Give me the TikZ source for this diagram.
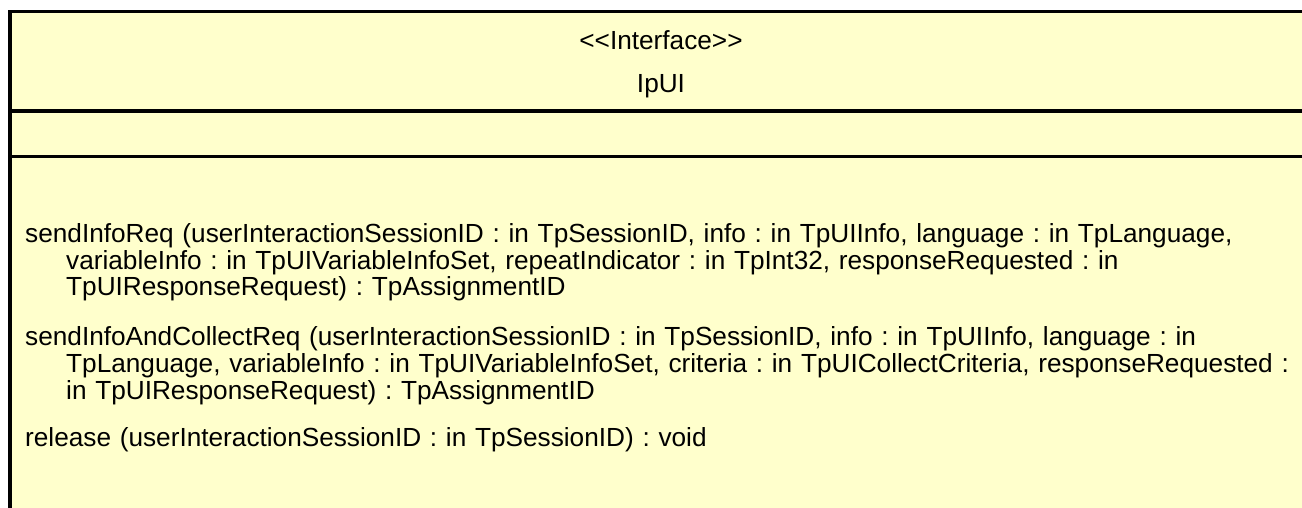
\documentclass[tikz,border=0pt]{standalone}
\usepackage{fontspec}
\setmainfont{Liberation Sans}[Ligatures=TeXOff]
\usetikzlibrary{positioning}
\definecolor{classfill}{HTML}{FFFFCC}
\tikzset{
    classline/.style={line width=3.5pt},
    headtext/.style={anchor=base, inner sep=0pt, font=\fontsize{26.2}{27}\selectfont},
    optext/.style={anchor=base west, inner sep=0pt, text width=1350pt, align=left,
        font=\fontsize{26.2}{27}\selectfont\frenchspacing}
}
\newcommand{\cont}{\\\hspace*{41pt}}

\begin{document}
\begin{tikzpicture}[x=1pt,y=1pt]
    \useasboundingbox (0,0) rectangle (1302,-508);
    \clip (0,0) rectangle (1302,-508);
    % class box, cut at the right and bottom
    \draw[classline, fill=classfill] (10,-11.5) rectangle (1312,-540);
    \draw[classline] (10,-111) -- (1312,-111);
    \draw[classline] (10,-156.5) -- (1312,-156.5);
    \node[headtext] (stereo) at (661,-50) {<<Interface>>};
    \node[headtext] (name) at (661,-93) {IpUI};
    % operations
    \node[optext] (op1) at (25,-242) {sendInfoReq (userInteractionSessionID : in TpSessionID, info : in TpUIInfo, language : in TpLanguage,\cont variableInfo : in TpUIVariableInfoSet, repeatIndicator : in TpInt32, responseRequested : in\cont TpUIResponseRequest) : TpAssignmentID};
    \node[optext] (op2) at (25,-345) {sendInfoAndCollectReq (userInteractionSessionID : in TpSessionID, info : in TpUIInfo, language : in\cont TpLanguage, variableInfo : in TpUIVariableInfoSet, criteria : in TpUICollectCriteria, responseRequested :\cont in TpUIResponseRequest) : TpAssignmentID};
    \node[optext] (op3) at (25,-446) {release (userInteractionSessionID : in TpSessionID) : void};
\end{tikzpicture}
\end{document}
